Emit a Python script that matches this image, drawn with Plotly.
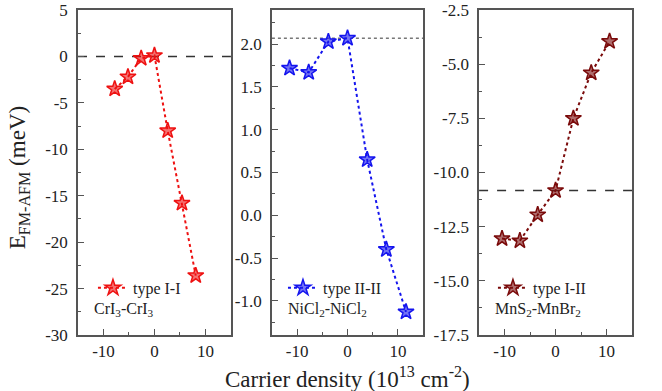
import plotly.graph_objects as go

# ---- data ----
x_cri3 = [-7.8, -5.2, -2.6, 0.0, 2.6, 5.4, 8.1]
y_cri3 = [-3.5, -2.2, -0.2, 0.1, -8.0, -15.8, -23.6]
x_nicl2 = [-11.5, -7.7, -3.8, 0.0, 3.9, 7.7, 11.6]
y_nicl2 = [1.72, 1.67, 2.03, 2.07, 0.65, -0.40, -1.13]
x_mns2 = [-10.5, -7.0, -3.5, 0.0, 3.5, 7.0, 10.6]
y_mns2 = [-13.05, -13.15, -11.95, -10.83, -7.5, -5.4, -3.95]

ref_lines = [0.0, 2.07, -10.83]
series_names = ["type I-I", "type II-II", "type I-II"]
systems = ["CrI<sub>3</sub>-CrI<sub>3</sub>", "NiCl<sub>2</sub>-NiCl<sub>2</sub>",
           "MnS<sub>2</sub>-MnBr<sub>2</sub>"]

x_ticks = [-10, 0, 10]
x_ticktext = ["-10", "0", "10"]
y1_ticks = [-30, -25, -20, -15, -10, -5, 0, 5]
y1_text = ["-30", "-25", "-20", "-15", "-10", "-5", "0", "5"]
y2_ticks = [-1.0, -0.5, 0.0, 0.5, 1.0, 1.5, 2.0]
y2_text = ["-1.0", "-0.5", "0.0", "0.5", "1.0", "1.5", "2.0"]
y3_ticks = [-17.5, -15.0, -12.5, -10.0, -7.5, -5.0, -2.5]
y3_text = ["-17.5", "-15.0", "-12.5", "-10.0", "-7.5", "-5.0", "-2.5"]

colors = ["#ee1111", "#1414ee", "#7a0a0a"]
fills = ["rgba(238,17,17,0.6)", "rgba(20,20,238,0.6)", "rgba(122,10,10,0.6)"]

FONT = "Liberation Serif"

fig = go.Figure()

xs = [x_cri3, x_nicl2, x_mns2]
ys = [y_cri3, y_nicl2, y_mns2]
for i in range(3):
    sfx = "" if i == 0 else str(i + 1)
    fig.add_trace(go.Scatter(
        x=xs[i], y=ys[i], mode="lines+markers", name=series_names[i],
        xaxis="x" + sfx, yaxis="y" + sfx,
        legend="legend" + sfx, showlegend=True,
        line=dict(color=colors[i], width=2, dash="dot"),
        marker=dict(symbol="star", size=12, color=fills[i],
                    line=dict(color=colors[i], width=1.5)),
    ))

domains = [[0.0, 0.276], [0.350, 0.623], [0.724, 1.0]]
yranges = [[-30, 5], [-1.4, 2.4], [-17.5, -2.5]]
yticks = [(y1_ticks, y1_text, 2.5), (y2_ticks, y2_text, 0.25), (y3_ticks, y3_text, 1.25)]
ref_dash = ["dash", "dot", "dash"]
ref_col = ["#333333", "#777777", "#333333"]
legend_x = [0.027, 0.370, 0.749]

layout = dict(
    template="none",
    width=662, height=391,
    margin=dict(l=78, r=30, t=10, b=56),
    paper_bgcolor="white", plot_bgcolor="white",
    font=dict(family=FONT, size=16, color="#222222"),
    showlegend=True,
)
shapes = []
annotations = []
for i in range(3):
    sfx = "" if i == 0 else str(i + 1)
    layout["xaxis" + sfx] = dict(
        domain=domains[i], range=[-15, 15], anchor="y" + sfx,
        tickmode="array", tickvals=x_ticks, ticktext=x_ticktext,
        showline=True, linecolor="#555555", linewidth=1.5, mirror=True,
        ticks="inside", ticklen=6, tickwidth=1.3, tickcolor="#555555",
        showgrid=False, zeroline=False,
        tickfont=dict(family=FONT, size=17, color="#222222"),
        minor=dict(dtick=5, tick0=0, ticks="inside", ticklen=3, tickcolor="#555555"),
    )
    tv, tt, mdt = yticks[i]
    layout["yaxis" + sfx] = dict(
        domain=[0, 1], range=yranges[i], anchor="x" + sfx,
        tickmode="array", tickvals=tv, ticktext=tt,
        showline=True, linecolor="#555555", linewidth=1.5, mirror=True,
        ticks="inside", ticklen=6, tickwidth=1.3, tickcolor="#555555",
        showgrid=False, zeroline=False,
        tickfont=dict(family=FONT, size=17, color="#222222"),
        minor=dict(dtick=mdt, tick0=0, ticks="inside", ticklen=3, tickcolor="#555555"),
        ticklabelstandoff=5,
    )
    layout["legend" + sfx] = dict(
        x=legend_x[i], y=0.145, xanchor="left", yanchor="middle",
        bgcolor="rgba(0,0,0,0)", borderwidth=0,
        font=dict(family=FONT, size=16, color="#222222"),
    )
    shapes.append(dict(type="line", xref="x" + sfx + " domain", yref="y" + sfx,
                       x0=0, x1=1, y0=ref_lines[i], y1=ref_lines[i],
                       line=dict(color=ref_col[i], width=1.5, dash=ref_dash[i]),
                       layer="below"))
    annotations.append(dict(text=systems[i], xref="x" + sfx + " domain", yref="y" + sfx + " domain",
                            x=0.09, y=0.08, xanchor="left", yanchor="middle",
                            showarrow=False, font=dict(family=FONT, size=16, color="#222222")))

annotations.append(dict(text="Carrier density (10<sup>13</sup> cm<sup>-2</sup>)",
                        xref="paper", yref="paper", x=0.487, y=-0.08, xanchor="center",
                        yanchor="top", showarrow=False,
                        font=dict(family=FONT, size=23, color="#222222")))
annotations.append(dict(text="E<sub>FM-AFM</sub> (meV)", xref="paper", yref="paper",
                        x=-0.105, y=0.485, xanchor="center", yanchor="middle",
                        textangle=-90, showarrow=False,
                        font=dict(family=FONT, size=23, color="#222222")))
layout["shapes"] = shapes
layout["annotations"] = annotations
fig.update_layout(**layout)
fig.write_html("out.html")
